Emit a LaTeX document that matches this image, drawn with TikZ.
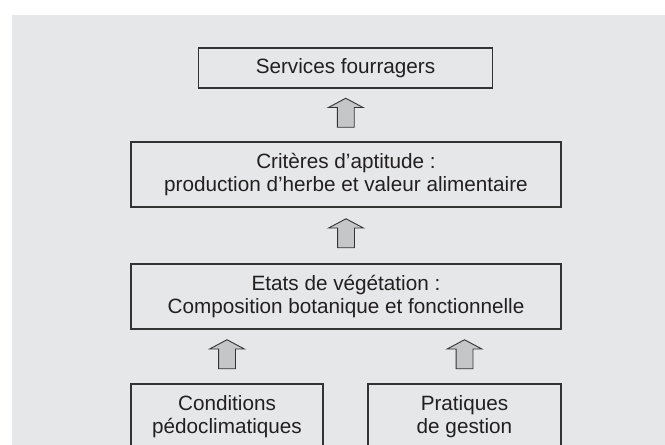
\documentclass[tikz,border=0pt]{standalone}
\usepackage{fontspec}
\setmainfont{Liberation Sans}
\usetikzlibrary{positioning, calc, shapes.arrows}
\definecolor{bggray}{HTML}{E6E7E8}
\definecolor{arrowgray}{HTML}{C5C6C8}
\definecolor{linegray}{HTML}{333333}
\definecolor{textgray}{HTML}{231F20}

\begin{document}
\begin{tikzpicture}[x=1pt, y=-1pt,
                        box/.style={draw=linegray, line width=1.2pt, text=textgray, align=center, inner sep=0pt,
                                    font=\fontsize{20.7}{23.3}\selectfont},
                        uparrow/.style={draw=linegray, line width=0.9pt, fill=arrowgray, single arrow, rotate=90,
                                    inner xsep=0pt, inner ysep=8pt, minimum height=29pt,
                                    single arrow head extend=9pt, single arrow tip angle=124}]
                        % Page and grey background
                        \useasboundingbox (0,0) rectangle (665,445);
                        \fill[bggray] (12,15) rectangle (665,445);

                        % Boxes, from top to bottom
                        \node[box, minimum width=294pt, minimum height=40pt] (serv) at (345.5,68) {Services fourragers};
                        \node[box, minimum width=430pt, minimum height=65pt] (crit) at (346,174.5) {Critères d’aptitude :\\production d’herbe et valeur alimentaire};
                        \node[box, minimum width=430pt, minimum height=65pt] (etat) at (346,296.5) {Etats de végétation :\\Composition botanique et fonctionnelle};
                        \node[box, minimum width=192pt, minimum height=65pt] (cond) at (227,416.5) {Conditions\\pédoclimatiques};
                        \node[box, minimum width=193pt, minimum height=65pt] (prat) at (464.5,416.5) {Pratiques\\de gestion};

                        % Block arrows between the boxes
                        \node[uparrow] (a1) at ($(serv.south)!0.5!(crit.north)$) {};
                        \node[uparrow] (a2) at ($(crit.south)!0.5!(etat.north)$) {};
                        \node[uparrow] (a3) at ($(cond.north)!0.5!(cond.north |- etat.south)$) {};
                        \node[uparrow] (a4) at ($(prat.north)!0.5!(prat.north |- etat.south)$) {};

                    \end{tikzpicture}
\end{document}
